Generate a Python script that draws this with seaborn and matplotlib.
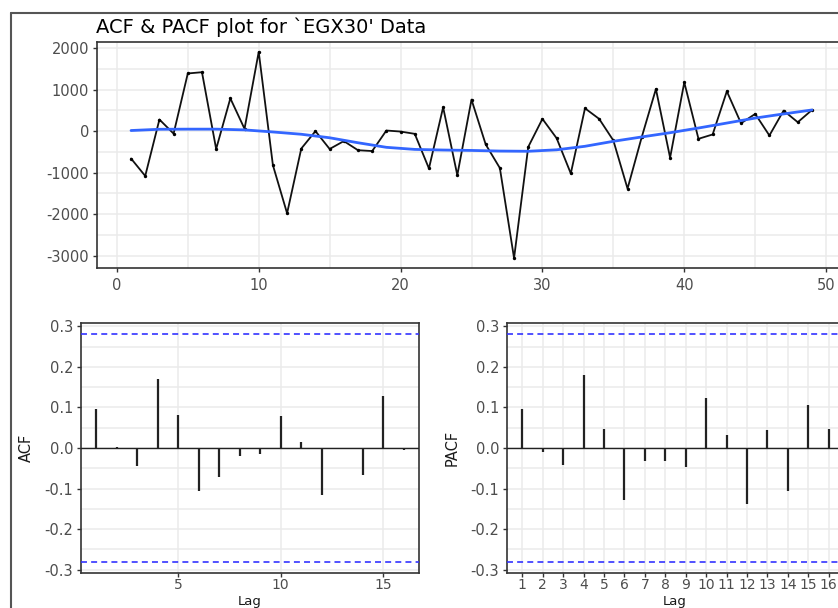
import numpy as np
import pandas as pd
import matplotlib
matplotlib.use("Agg")
import matplotlib.pyplot as plt
import seaborn as sns
from matplotlib.ticker import MultipleLocator, FixedLocator
from matplotlib.lines import Line2D

# ---- data -------------------------------------------------------------
time_index = list(range(1, 50))
egx30_diff = [-660, -1080, 280, -60, 1390, 1420, -430, 790, 56, 1910,
              -820, -1980, -420, 0, -430, -240, -460, -480, 15, -10,
              -65, -900, 575, -1060, 760, -320, -890, -3060, -380, 295,
              -170, -1020, 550, 295, -225, -1385, -145, 1015, -640, 1175,
              -185, -80, 960, 190, 415, -105, 495, 215, 510]

trend_x = [1, 3, 5, 7, 9, 11, 13, 15, 17, 19, 21, 23, 25,
           27, 29, 31, 33, 35, 37, 39, 41, 43, 45, 47, 49]
trend_y = [15, 45, 48, 48, 30, -20, -75, -160, -280, -390, -440, -455, -465,
           -480, -485, -450, -365, -245, -140, -38, 75, 195, 315, 415, 510]

lags = list(range(1, 17))
acf_vals = [0.096, 0.003, -0.045, 0.170, 0.082, -0.107, -0.071, -0.020,
            -0.014, 0.080, 0.016, -0.116, 0.001, -0.066, 0.129, -0.004]
pacf_vals = [0.096, -0.011, -0.043, 0.179, 0.048, -0.127, -0.032, -0.032,
             -0.047, 0.124, 0.031, -0.137, 0.044, -0.107, 0.106, 0.046]
n_obs = 49
conf_bound = 1.96 / np.sqrt(n_obs)

title_text = "ACF & PACF plot for `EGX30' Data"

# ---- style ------------------------------------------------------------
sns.set_style("white")
plt.rcParams["font.family"] = ["DejaVu Sans"]
plt.rcParams["lines.scale_dashes"] = False
plt.rcParams["axes.unicode_minus"] = False

W, H = 838, 608
fig = plt.figure(figsize=(W / 100, H / 100), dpi=100)
fig.patch.set_facecolor("white")


def box(l, t, r, b):
    return [l / W, 1 - b / H, (r - l) / W, (b - t) / H]


ax_ts = fig.add_axes(box(97, 42, 846, 268))
ax_acf = fig.add_axes(box(81, 323, 419, 573))
ax_pacf = fig.add_axes(box(507, 323, 844, 573))

GRID = "#EBEBEB"
BORDER = "#333333"


def style_panel(ax):
    ax.set_facecolor("white")
    for sp in ax.spines.values():
        sp.set_color(BORDER)
        sp.set_linewidth(1.2)
        sp.set_visible(True)
    ax.grid(True, which="both", color=GRID, linewidth=1.1)
    ax.set_axisbelow(True)
    ax.tick_params(which="major", direction="out", length=3.2, width=1.0,
                   color=BORDER, labelcolor="#4D4D4D", labelsize=10.5, pad=2.5,
                   bottom=True, left=True)
    ax.tick_params(which="minor", length=0)
    ax.set_xlabel("")
    ax.set_ylabel("")


# ---- series panel -----------------------------------------------------
ts_df = pd.DataFrame({"t": time_index, "value": egx30_diff})
trend_df = pd.DataFrame({"t": trend_x, "value": trend_y})

sns.lineplot(data=ts_df, x="t", y="value", color="#111111", linewidth=1.3,
             ax=ax_ts)
sns.scatterplot(data=ts_df, x="t", y="value", color="black", s=6,
                linewidth=0, ax=ax_ts, zorder=3)
sns.lineplot(data=trend_df, x="t", y="value", color="#3366FF", linewidth=2.0,
             ax=ax_ts, zorder=4)
ax_ts.set_xlim(-1.4, 51.4)
ax_ts.set_ylim(-3298, 2148)
ax_ts.xaxis.set_major_locator(MultipleLocator(10))
ax_ts.xaxis.set_minor_locator(FixedLocator([5, 15, 25, 35, 45]))
ax_ts.yaxis.set_major_locator(MultipleLocator(1000))
ax_ts.yaxis.set_minor_locator(FixedLocator([-2500, -1500, -500, 500, 1500]))
style_panel(ax_ts)
ax_ts.tick_params(axis="x", pad=4)

# ---- correlation panels -------------------------------------------------
def corr_panel(ax, values, xticks):
    ax.vlines(lags, 0, values, color="#222222", linewidth=1.6, zorder=3)
    ax.axhline(0, color="#222222", linewidth=1.0, zorder=3)
    for b in (conf_bound, -conf_bound):
        ax.axhline(b, color="#3333FF", linewidth=1.2, linestyle=(0, (4.3, 3.0)),
                   zorder=4)
    ax.set_xlim(0.25, 16.75)
    ax.set_ylim(-0.308, 0.308)
    ax.xaxis.set_major_locator(FixedLocator(xticks))
    ax.xaxis.set_minor_locator(FixedLocator([]))
    ax.yaxis.set_major_locator(FixedLocator([-0.3, -0.2, -0.1, 0.0, 0.1, 0.2, 0.3]))
    ax.yaxis.set_minor_locator(FixedLocator([-0.25, -0.15, -0.05, 0.05, 0.15, 0.25]))
    style_panel(ax)
    ax.tick_params(axis="x", labelsize=10, pad=0.5)
    ax.set_yticklabels(["-0.3", "-0.2", "-0.1", "0.0", "0.1", "0.2", "0.3"])


corr_panel(ax_acf, acf_vals, [5, 10, 15])
corr_panel(ax_pacf, pacf_vals, lags)

# ---- texts ------------------------------------------------------------
fig.text(96 / W, 1 - 33 / H, title_text, fontsize=14, color="black",
         ha="left", va="baseline")
fig.text(26 / W, 1 - 448 / H, "ACF", rotation=90, fontsize=10.5,
         color="#1A1A1A", ha="center", va="center")
fig.text(452 / W, 1 - 448 / H, "PACF", rotation=90, fontsize=10.5,
         color="#1A1A1A", ha="center", va="center")
fig.text(250 / W, 1 - 605.5 / H, "Lag", fontsize=9.5, color="#1A1A1A",
         ha="center", va="baseline")
fig.text(675 / W, 1 - 605.5 / H, "Lag", fontsize=9.5, color="#1A1A1A",
         ha="center", va="baseline")

# outer frame of the plotting window
fig.add_artist(Line2D([11 / W, 11 / W], [1 - 13 / H, 0], transform=fig.transFigure,
                      color="#555555", linewidth=1.5))
fig.add_artist(Line2D([11 / W, 1], [1 - 13 / H, 1 - 13 / H], transform=fig.transFigure,
                      color="#555555", linewidth=1.5))

fig.savefig("out.png", dpi=100, facecolor="white")
